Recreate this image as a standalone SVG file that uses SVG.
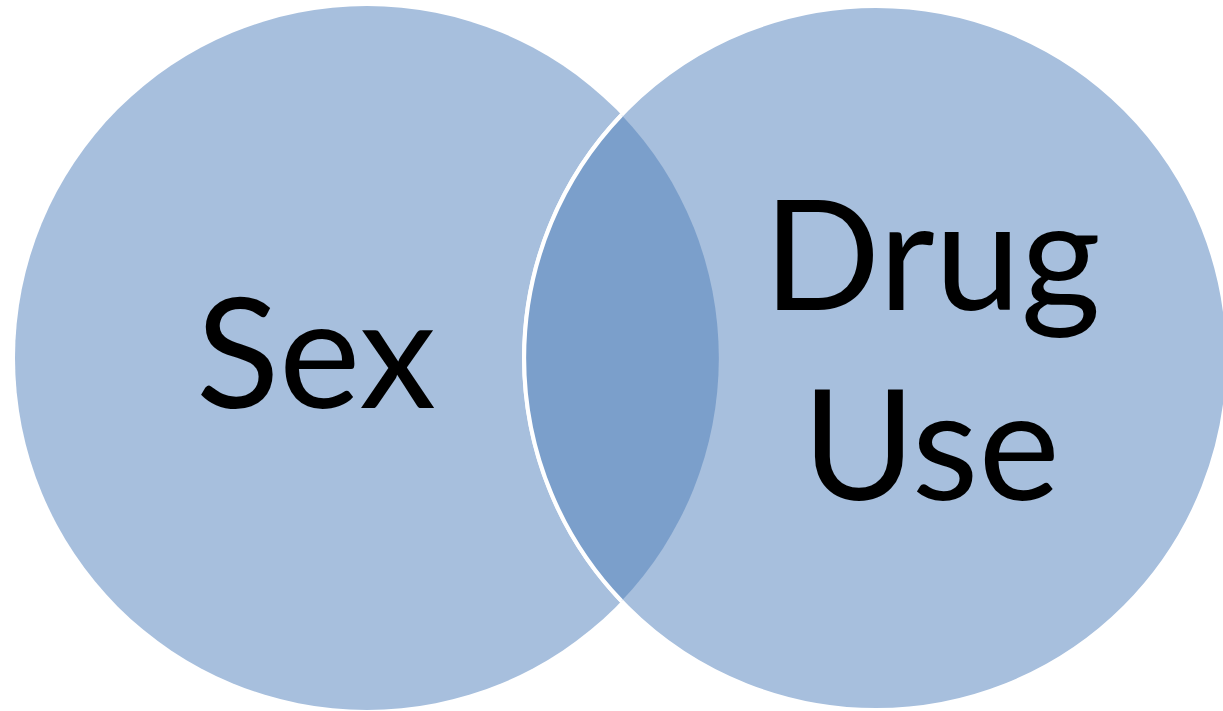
<svg xmlns="http://www.w3.org/2000/svg" width="1223" height="711" viewBox="0 0 1223 711">
<style>
.circ{fill:#A7BFDD}
.lens{fill:#7B9FCB}
.lbl{font-family:Lato,"Liberation Sans",sans-serif;font-size:154px;fill:#000;text-anchor:middle}
</style>
<rect width="1223" height="711" fill="#fff"/>
<g id="sex">
<circle class="circ" cx="367" cy="358" r="352"/>
</g>
<g id="drug-use">
<circle class="circ" cx="876" cy="358" r="352" stroke="#fff" stroke-width="4"/>
</g>
<g id="overlap">
<path class="lens" d="M621.5,115 A352,352 0 0 1 621.5,601 A352,352 0 0 1 621.5,115 Z"/>
<path d="M621.5,115 A352,352 0 0 0 621.5,601" fill="none" stroke="#fff" stroke-width="4"/>
</g>
<g id="labels">
<text class="lbl" x="316" y="408">Sex</text>
<text class="lbl" x="932" y="310">Drug</text>
<text class="lbl" x="931" y="500">Use</text>
</g>
<g id="connectors"/>
</svg>
